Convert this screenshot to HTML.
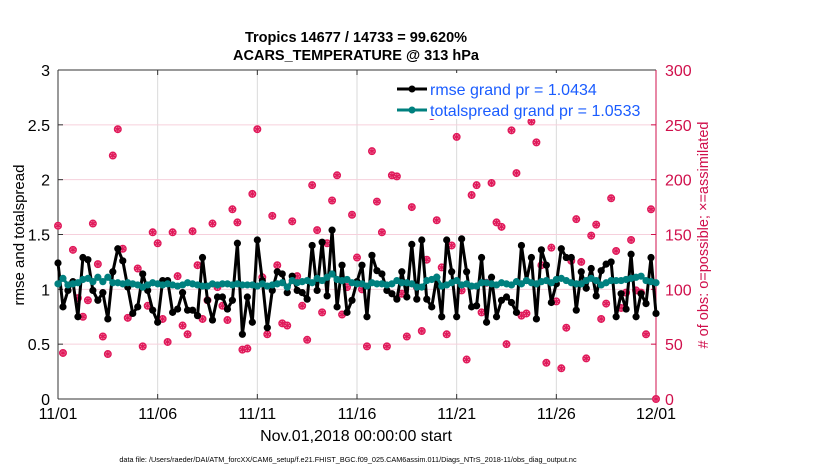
<!DOCTYPE html>
<html><head><meta charset="utf-8"><style>
body{margin:0;background:#fff;width:830px;height:470px;overflow:hidden}
svg{font-family:"Liberation Sans",sans-serif}
</style></head><body>
<svg id="chart" width="830" height="470">
<text x="356" y="42" text-anchor="middle" font-size="14.5" font-weight="bold">Tropics 14677 / 14733 = 99.620%</text>
<text x="356" y="60" text-anchor="middle" font-size="14.5" font-weight="bold">ACARS_TEMPERATURE @ 313 hPa</text>
<g id="grid"></g>
<g id="axes"></g>
<g id="series"></g>
<text transform="translate(24,235) rotate(-90)" text-anchor="middle" font-size="15">rmse and totalspread</text>
<text transform="translate(708,235) rotate(-90)" text-anchor="middle" font-size="14.5" fill="#d0104c"># of obs: o=possible; ×=assimilated</text>
<text x="356" y="441" text-anchor="middle" font-size="16">Nov.01,2018 00:00:00 start</text>
<text x="348" y="462" text-anchor="middle" font-size="7.3">data file: /Users/raeder/DAI/ATM_forcXX/CAM6_setup/f.e21.FHIST_BGC.f09_025.CAM6assim.011/Diags_NTrS_2018-11/obs_diag_output.nc</text>
<g id="legend">
<rect x="392" y="73" width="262" height="46" fill="#fff"/>
<line x1="397" y1="89" x2="427" y2="89" stroke="#000" stroke-width="3"/>
<circle cx="412" cy="89" r="3.5" fill="#000"/>
<text x="430" y="95" font-size="16" fill="#1a5cff">rmse grand pr = 1.0434</text>
<line x1="397" y1="110" x2="427" y2="110" stroke="#00807f" stroke-width="3"/>
<circle cx="412" cy="110" r="3.5" fill="#00807f"/>
<text x="430" y="116" font-size="16" fill="#1a5cff">totalspread grand pr = 1.0533</text>
</g>
</svg>
<script>
const xTickLabels=["11/01","11/06","11/11","11/16","11/21","11/26","12/01"];
const yTicksLeft=[0,0.5,1,1.5,2,2.5,3];
const yTickLabelsLeft=["0","0.5","1","1.5","2","2.5","3"];
const yTicksRight=[0,50,100,150,200,250,300];
const rmse=[1.24,0.84,0.99,1.07,0.75,1.29,1.27,0.99,0.90,0.97,0.73,1.16,1.37,1.26,1.02,0.78,0.84,1.14,0.99,0.81,0.70,1.08,1.08,0.79,0.82,0.97,0.81,0.81,0.76,1.29,0.90,0.72,0.93,0.93,0.82,0.90,1.42,0.59,0.93,0.70,1.45,1.08,0.65,0.99,1.16,1.14,0.97,1.12,0.99,0.97,0.91,1.40,0.99,1.43,0.94,1.54,0.84,1.22,0.79,0.90,1.07,1.22,0.75,1.31,1.17,1.14,0.99,0.96,0.91,1.16,0.93,1.41,0.91,1.45,0.91,0.84,1.11,0.75,1.45,1.16,0.75,1.46,1.16,0.84,0.85,1.29,0.70,1.11,0.75,0.90,0.93,0.88,0.79,1.40,1.08,1.29,0.73,1.36,1.22,0.88,1.05,1.37,1.29,1.29,0.81,1.16,1.01,1.19,0.94,1.17,1.23,1.25,0.75,0.96,0.82,1.32,0.75,0.96,0.87,1.29,0.78];
const spread=[1.05,1.10,1.04,1.05,1.06,1.09,1.10,1.07,1.11,1.07,1.11,1.06,1.06,1.05,1.06,1.05,1.04,1.02,1.04,1.06,1.05,1.04,1.05,1.04,1.03,1.04,1.06,1.05,1.04,1.03,1.03,1.05,1.04,1.05,1.05,1.04,1.05,1.04,1.04,1.04,1.03,1.05,1.03,1.04,1.05,1.06,1.02,1.08,1.06,1.07,1.08,1.06,1.10,1.08,1.11,1.14,1.09,1.08,1.09,1.06,1.05,1.05,1.03,1.06,1.05,1.05,1.04,1.05,1.08,1.06,1.06,1.05,1.02,1.02,1.08,1.09,1.11,1.03,1.04,1.06,1.08,1.04,1.05,1.03,1.03,1.06,1.06,1.05,1.04,1.06,1.05,1.04,1.07,1.05,1.08,1.06,1.05,1.07,1.08,1.06,1.09,1.10,1.08,1.06,1.05,1.05,1.08,1.10,1.08,1.04,1.06,1.08,1.08,1.08,1.09,1.10,1.11,1.12,1.08,1.07,1.06];
const obsCount=[158,42,null,136,92,75,90,160,123,57,41,222,246,137,74,null,119,48,85,152,142,73,52,152,112,67,59,153,122,73,90,160,102,85,72,173,161,45,46,187,246,111,59,167,122,69,67,162,112,85,54,195,154,79,142,181,204,77,102,168,129,100,48,226,180,152,48,204,203,96,57,175,102,62,127,258,163,120,59,140,239,99,36,186,195,79,106,197,161,157,50,245,206,76,78,253,234,122,33,138,89,28,65,126,164,125,37,149,159,73,87,183,135,83,97,145,99,97,59,173,0];
const X0=58,X1=656,Y0=399,Y1=70,NDAYS=30,STEPS=4;
const xs=d=>X0+(X1-X0)*d/NDAYS;
const yl=v=>Y0-(Y0-Y1)*v/3;
const yr=v=>Y0-(Y0-Y1)*v/300;
const NS="http://www.w3.org/2000/svg";
function mk(tag,attrs,parent){const e=document.createElementNS(NS,tag);for(const k in attrs)e.setAttribute(k,attrs[k]);parent.appendChild(e);return e;}
const grid=document.getElementById('grid'),axes=document.getElementById('axes'),ser=document.getElementById('series');
mk('rect',{x:X0,y:Y1,width:X1-X0,height:Y0-Y1,fill:'#fff'},grid);
xTickLabels.forEach((t,i)=>{const x=xs(i*5);
 if(i>0&&i<xTickLabels.length-1){const g=mk('line',{x1:x,x2:x,y1:Y1,y2:Y0,stroke:'#dadada','stroke-width':1},grid);
 
 }
 const tl=mk('text',{x:x,y:419,'text-anchor':'middle','font-size':16},axes);tl.textContent=t;
 
 
 mk('line',{x1:x,x2:x,y1:Y0,y2:Y0-5,stroke:'#333'},axes);
 mk('line',{x1:x,x2:x,y1:Y1,y2:Y1+5,stroke:'#333'},axes);
});
yTicksRight.forEach((v,i)=>{const y=yr(v);
 if(i>0&&i<yTicksRight.length-1){const g=mk('line',{x1:X0,x2:X1,y1:y,y2:y,stroke:'#f6d0dc','stroke-width':1},grid);
 
 }
 const t=mk('text',{x:X1+9,y:y+6,'font-size':16,fill:'#d0104c'},axes);t.textContent=v;
 
 
 mk('line',{x1:X1,x2:X1-5,y1:y,y2:y,stroke:'#d0104c'},axes);
});
yTicksLeft.forEach((v,i)=>{const y=yl(v);
 const t=mk('text',{x:X0-8,y:y+6,'font-size':16,'text-anchor':'end'},axes);t.textContent=yTickLabelsLeft[i];
 
 
 mk('line',{x1:X0,x2:X0+5,y1:y,y2:y,stroke:'#333'},axes);
});
mk('line',{x1:X0,x2:X1,y1:Y1,y2:Y1,stroke:'#333'},axes);
mk('line',{x1:X0,x2:X1,y1:Y0,y2:Y0,stroke:'#333'},axes);
mk('line',{x1:X0,x2:X0,y1:Y1,y2:Y0,stroke:'#333'},axes);
mk('line',{x1:X1,x2:X1,y1:Y1,y2:Y0,stroke:'#d0104c'},axes);
obsCount.forEach((v,i)=>{if(v===null)return;const x=xs(i/STEPS),y=yr(v);
 const g=mk('g',{},ser);
 
 
 mk('circle',{cx:x,cy:y,r:3.3,fill:'#f4a0bb',stroke:'#e0195a','stroke-width':1.4},g);
 for(let a=0;a<3;a++){const an=a*Math.PI/3+Math.PI/2;mk('line',{x1:x-3.5*Math.cos(an),y1:y-3.5*Math.sin(an),x2:x+3.5*Math.cos(an),y2:y+3.5*Math.sin(an),stroke:'#e0195a','stroke-width':1.3},g);}
});
function drawSeries(vals,color,name){
 const p=mk('polyline',{points:vals.map((v,i)=>xs(i/STEPS)+','+yl(v)).join(' '),fill:'none',stroke:color,'stroke-width':3,'stroke-linejoin':'round'},ser);
 
 
 vals.forEach((v,i)=>{const c=mk('circle',{cx:xs(i/STEPS),cy:yl(v),r:3.6,fill:color},ser);
 
 });
}
drawSeries(rmse,'#000','rmse');
drawSeries(spread,'#00807f','totalspread');
ser.parentNode.appendChild(document.getElementById('legend'));
</script>
</body></html>
